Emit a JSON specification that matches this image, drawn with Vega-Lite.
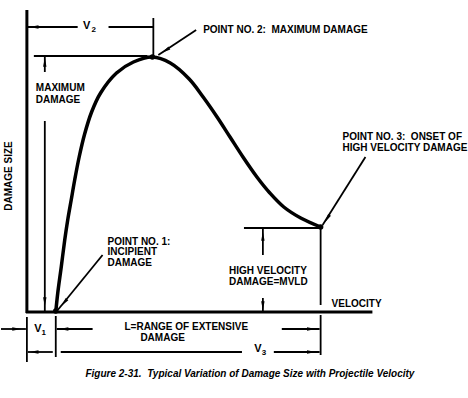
{
  "$schema": "https://vega.github.io/schema/vega-lite/v6.json",
  "width": 468,
  "height": 398,
  "autosize": {"type": "fit", "contains": "padding"},
  "padding": 0,
  "background": "white",
  "config": {"view": {"stroke": null}, "text": {"font": "Liberation Sans", "fontWeight": "bold", "fontSize": 10, "color": "black"}},
  "datasets": {
    "axes": [
      {"x": 26, "y": 10, "x2": 26, "y2": 313},
      {"x": 25, "y": 312, "x2": 373, "y2": 312}
    ],
    "curve": [
      {"i": 0, "x": 55, "y": 312},
      {"i": 1, "x": 57, "y": 293},
      {"i": 2, "x": 60.5, "y": 267},
      {"i": 3, "x": 64, "y": 240},
      {"i": 4, "x": 67, "y": 220},
      {"i": 5, "x": 70.5, "y": 200},
      {"i": 6, "x": 74, "y": 180},
      {"i": 7, "x": 78.5, "y": 157},
      {"i": 8, "x": 84, "y": 134},
      {"i": 9, "x": 91, "y": 112},
      {"i": 10, "x": 100, "y": 93},
      {"i": 11, "x": 116, "y": 73},
      {"i": 12, "x": 133, "y": 62},
      {"i": 13, "x": 152, "y": 57},
      {"i": 14, "x": 170, "y": 63},
      {"i": 15, "x": 189, "y": 79},
      {"i": 16, "x": 203, "y": 97},
      {"i": 17, "x": 217, "y": 117},
      {"i": 18, "x": 230, "y": 137},
      {"i": 19, "x": 243, "y": 157},
      {"i": 20, "x": 257, "y": 177},
      {"i": 21, "x": 270, "y": 193},
      {"i": 22, "x": 284, "y": 207},
      {"i": 23, "x": 301, "y": 218},
      {"i": 24, "x": 321, "y": 227}
    ],
    "lines": [
      {"x": 26, "y": 27, "x2": 77, "y2": 27},
      {"x": 108, "y": 27, "x2": 153, "y2": 27},
      {"x": 153, "y": 18, "x2": 153, "y2": 57},
      {"x": 33, "y": 56, "x2": 147, "y2": 56},
      {"x": 44, "y": 57, "x2": 44, "y2": 72},
      {"x": 44, "y": 121, "x2": 44, "y2": 311},
      {"x": 196, "y": 30, "x2": 158, "y2": 55},
      {"x": 366, "y": 157, "x2": 323, "y2": 225},
      {"x": 102, "y": 255, "x2": 57, "y2": 310},
      {"x": 244, "y": 228, "x2": 321, "y2": 228},
      {"x": 321, "y": 228, "x2": 321, "y2": 305},
      {"x": 263, "y": 229, "x2": 263, "y2": 255},
      {"x": 263, "y": 298, "x2": 263, "y2": 311},
      {"x": 26, "y": 317, "x2": 26, "y2": 362},
      {"x": 55, "y": 316, "x2": 55, "y2": 357},
      {"x": 321, "y": 315, "x2": 321, "y2": 355},
      {"x": 0, "y": 329, "x2": 25, "y2": 329},
      {"x": 56, "y": 329, "x2": 92, "y2": 329},
      {"x": 282, "y": 329, "x2": 320, "y2": 329},
      {"x": 27, "y": 352, "x2": 52, "y2": 352},
      {"x": 60, "y": 352, "x2": 242, "y2": 352},
      {"x": 274, "y": 352, "x2": 320, "y2": 352}
    ],
    "heads": [
      {"x": 44, "y": 63, "angle": 0},
      {"x": 44, "y": 301, "angle": 180},
      {"x": 166, "y": 50, "angle": 237},
      {"x": 328, "y": 218, "angle": 212},
      {"x": 64, "y": 302, "angle": 219},
      {"x": 263, "y": 237, "angle": 0},
      {"x": 263, "y": 305, "angle": 180},
      {"x": 15, "y": 329, "angle": 90},
      {"x": 64, "y": 329, "angle": 270},
      {"x": 311, "y": 329, "angle": 90},
      {"x": 34, "y": 352, "angle": 270},
      {"x": 311, "y": 352, "angle": 90},
      {"x": 34, "y": 27, "angle": 270}
    ],
    "dots": [
      {"x": 152, "y": 57},
      {"x": 321, "y": 227},
      {"x": 55, "y": 311}
    ],
    "labels": [
      {"x": 35, "y": 88, "text": "MAXIMUM"},
      {"x": 35, "y": 100, "text": "DAMAGE"},
      {"x": 203, "y": 30, "text": "POINT NO. 2:\u00a0 MAXIMUM DAMAGE"},
      {"x": 343, "y": 137, "text": "POINT NO. 3:\u00a0 ONSET OF"},
      {"x": 343, "y": 148, "text": "HIGH VELOCITY DAMAGE"},
      {"x": 107, "y": 242, "text": "POINT NO. 1:"},
      {"x": 107, "y": 252, "text": "INCIPIENT"},
      {"x": 107, "y": 263, "text": "DAMAGE"},
      {"x": 229, "y": 271, "text": "HIGH VELOCITY"},
      {"x": 229, "y": 282, "text": "DAMAGE=MVLD"},
      {"x": 332, "y": 304, "text": "VELOCITY"},
      {"x": 124, "y": 327, "text": "L=RANGE OF EXTENSIVE"},
      {"x": 140, "y": 338, "text": "DAMAGE"}
    ],
    "vees": [
      {"x": 86, "y": 26, "text": "V"},
      {"x": 37, "y": 329, "text": "V"},
      {"x": 258, "y": 349, "text": "V"}
    ],
    "subs": [
      {"x": 93, "y": 30, "text": "2"},
      {"x": 43, "y": 333, "text": "1"},
      {"x": 264, "y": 353, "text": "3"}
    ],
    "ylab": [
      {"x": 8, "y": 176, "text": "DAMAGE SIZE"}
    ],
    "caption": [
      {"x": 250, "y": 374, "text": "Figure 2-31.\u00a0 Typical Variation of Damage Size with Projectile Velocity"}
    ]
  },
  "layer": [
    {
      "data": {"name": "axes"},
      "mark": {"type": "rule", "strokeWidth": 3, "color": "black"},
      "encoding": {
        "x": {"field": "x", "type": "quantitative", "scale": {"domain": [0, 468], "nice": false, "zero": false}, "axis": null},
        "y": {"field": "y", "type": "quantitative", "scale": {"domain": [0, 398], "nice": false, "zero": false, "reverse": true}, "axis": null},
        "x2": {"field": "x2"},
        "y2": {"field": "y2"}
      }
    },
    {
      "data": {"name": "curve"},
      "mark": {"type": "line", "strokeWidth": 3.5, "color": "black", "interpolate": "catmull-rom"},
      "encoding": {
        "x": {"field": "x", "type": "quantitative"},
        "y": {"field": "y", "type": "quantitative"},
        "order": {"field": "i"}
      }
    },
    {
      "data": {"name": "lines"},
      "mark": {"type": "rule", "strokeWidth": 1.8, "color": "black"},
      "encoding": {
        "x": {"field": "x", "type": "quantitative"},
        "y": {"field": "y", "type": "quantitative"},
        "x2": {"field": "x2"},
        "y2": {"field": "y2"}
      }
    },
    {
      "data": {"name": "heads"},
      "mark": {"type": "point", "filled": true, "color": "black", "opacity": 1, "size": 110, "shape": "M0,-1L0.32,0.7L-0.32,0.7Z"},
      "encoding": {
        "x": {"field": "x", "type": "quantitative"},
        "y": {"field": "y", "type": "quantitative"},
        "angle": {"field": "angle", "type": "quantitative", "scale": null}
      }
    },
    {
      "data": {"name": "dots"},
      "mark": {"type": "point", "filled": true, "color": "black", "opacity": 1, "size": 30, "shape": "circle"},
      "encoding": {
        "x": {"field": "x", "type": "quantitative"},
        "y": {"field": "y", "type": "quantitative"}
      }
    },
    {
      "data": {"name": "labels"},
      "mark": {"type": "text", "align": "left", "baseline": "middle"},
      "encoding": {
        "x": {"field": "x", "type": "quantitative"},
        "y": {"field": "y", "type": "quantitative"},
        "text": {"field": "text"}
      }
    },
    {
      "data": {"name": "vees"},
      "mark": {"type": "text", "align": "center", "baseline": "middle", "fontSize": 11},
      "encoding": {
        "x": {"field": "x", "type": "quantitative"},
        "y": {"field": "y", "type": "quantitative"},
        "text": {"field": "text"}
      }
    },
    {
      "data": {"name": "subs"},
      "mark": {"type": "text", "align": "center", "baseline": "middle", "fontSize": 8},
      "encoding": {
        "x": {"field": "x", "type": "quantitative"},
        "y": {"field": "y", "type": "quantitative"},
        "text": {"field": "text"}
      }
    },
    {
      "data": {"name": "ylab"},
      "mark": {"type": "text", "align": "center", "baseline": "middle", "angle": 270},
      "encoding": {
        "x": {"field": "x", "type": "quantitative"},
        "y": {"field": "y", "type": "quantitative"},
        "text": {"field": "text"}
      }
    },
    {
      "data": {"name": "caption"},
      "mark": {"type": "text", "align": "center", "baseline": "middle", "fontStyle": "italic", "fontSize": 10},
      "encoding": {
        "x": {"field": "x", "type": "quantitative"},
        "y": {"field": "y", "type": "quantitative"},
        "text": {"field": "text"}
      }
    }
  ]
}
